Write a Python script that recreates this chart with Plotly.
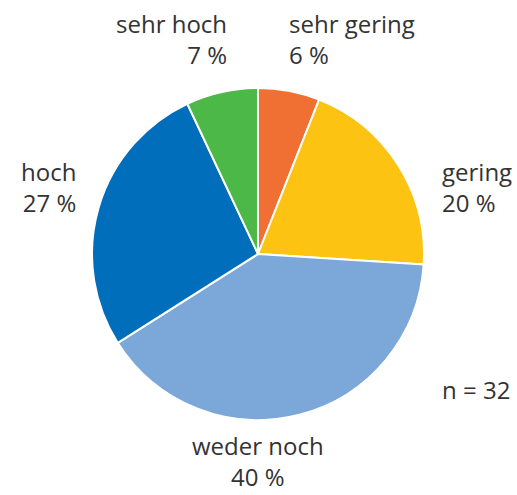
import plotly.graph_objects as go

categories = ["sehr gering", "gering", "weder noch", "hoch", "sehr hoch"]
values = [6, 20, 40, 27, 7]
colors = ["#F07033", "#FDC312", "#7BA7D9", "#006EBA", "#4CB848"]
n_total = 32

W, H = 517, 495
cx, cy, r = 258, 254, 166

fig = go.Figure(go.Pie(
    labels=categories,
    values=values,
    sort=False,
    direction="clockwise",
    rotation=0,
    marker=dict(colors=colors, line=dict(color="white", width=2)),
    textinfo="none",
    hoverinfo="label+percent",
    showlegend=False,
    domain=dict(x=[(cx - r) / W, (cx + r) / W], y=[(H - cy - r) / H, (H - cy + r) / H]),
))

FONT = dict(family="Open Sans, Noto Sans, sans-serif", size=24, color="#333333")

# label placements (pixel positions), anchor, alignment
placements = {
    "sehr hoch": (228, 39, "right"),
    "sehr gering": (288, 39, "left"),
    "gering": (441, 187, "left"),
    "hoch": (77, 187, "right"),
    "weder noch": (258, 461, "center"),
}

annotations = []
for cat, val in zip(categories, values):
    px, py, al = placements[cat]
    annotations.append(dict(
        x=px / W, y=1 - py / H, xref="paper", yref="paper",
        text=f"{cat}<br>{val} %", showarrow=False,
        xanchor=al, yanchor="middle", align=al, font=FONT,
        borderpad=0,
    ))
annotations.append(dict(
    x=441 / W, y=1 - 389 / H, xref="paper", yref="paper",
    text=f"n = {n_total}", showarrow=False, xanchor="left", yanchor="middle",
    align="left", font=FONT, borderpad=0,
))

fig.update_layout(
    width=W, height=H,
    margin=dict(l=0, r=0, t=0, b=0),
    paper_bgcolor="white", plot_bgcolor="white",
    annotations=annotations,
)

fig.write_html(
    "out.html",
    config={"displayModeBar": False},
    post_script="document.body.style.margin='0px';document.body.style.overflow='hidden';",
)
